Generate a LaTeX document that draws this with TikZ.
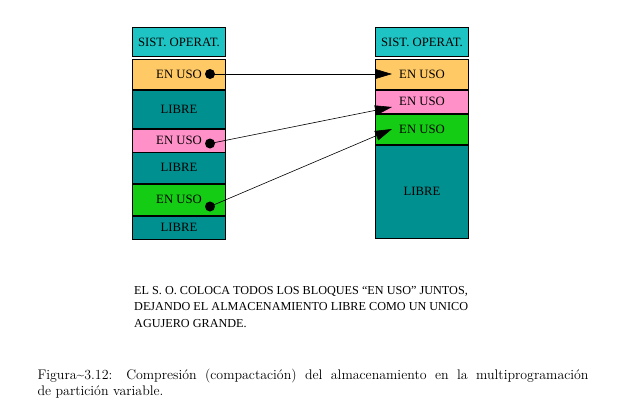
\documentclass[tikz,border=0pt]{standalone}
\usepackage{fontspec}
\newfontfamily\timesfont{Liberation Serif}
\usepackage{xcolor}
\usepackage{tikz}
\usetikzlibrary{arrows.meta}
\definecolor{sistcyan}{HTML}{1EC4C4}
\definecolor{usoorange}{HTML}{FFC966}
\definecolor{libreteal}{HTML}{009090}
\definecolor{usopink}{HTML}{FF90C8}
\definecolor{usogreen}{HTML}{14CC14}

\begin{document}
\begin{tikzpicture}[x=1pt,y=-1pt,
  blk/.style={draw=black,line width=0.8pt,minimum width=93pt,inner sep=0pt,
    font=\timesfont\fontsize{12.7}{14}\selectfont},
  dot/.style={circle,fill=black,inner sep=0pt,minimum size=10pt},
  mv/.style={-{Triangle[length=17pt,width=10pt]},line width=0.6pt}]
  \useasboundingbox (0,0) rectangle (621,413);
  % memoria antes
  \node[blk,fill=sistcyan,minimum height=29.7pt]  (lsist) at (179,41.9)  {SIST. OPERAT.};
  \node[blk,fill=usoorange,minimum height=30pt]   (luso1) at (179,74.3)  {EN USO};
  \node[blk,fill=libreteal,minimum height=37.6pt] (llib1) at (179,109.5) {LIBRE};
  \node[blk,fill=usopink,minimum height=23pt]     (luso2) at (179,140.8) {EN USO};
  \node[blk,fill=libreteal,minimum height=31pt]   (llib2) at (179,167.8) {LIBRE};
  \node[blk,fill=usogreen,minimum height=31pt]    (luso3) at (179,199.5) {EN USO};
  \node[blk,fill=libreteal,minimum height=22.3pt] (llib3) at (179,227.8) {LIBRE};
  % memoria despues
  \node[blk,fill=sistcyan,minimum height=29.4pt]  (rsist) at (422,42)    {SIST. OPERAT.};
  \node[blk,fill=usoorange,minimum height=29.7pt] (ruso1) at (422,74.2)  {EN USO};
  \node[blk,fill=usopink,minimum height=23.3pt]   (ruso2) at (422,101.7) {EN USO};
  \node[blk,fill=usogreen,minimum height=30pt]    (ruso3) at (422,129.3) {EN USO};
  \node[blk,fill=libreteal,minimum height=93pt]   (rlib)  at (422,191.8) {LIBRE};
  % movimientos
  \node[dot] (d1) at (210,74) {};
  \node[dot] (d2) at (210,143.5) {};
  \node[dot] (d3) at (210,206.5) {};
  \coordinate (t1) at (392,74);
  \coordinate (t2) at (392,107);
  \coordinate (t3) at (392,129);
  \draw[mv] (d1.center) -- (t1);
  \draw[mv] (d2.center) -- (t2);
  \draw[mv] (d3.center) -- (t3);
  \node[anchor=base west,align=left,inner sep=0pt,
    font=\timesfont\fontsize{12.2}{16.5}\selectfont] (nota) at (134,327.3)
    {EL S. O. COLOCA TODOS LOS BLOQUES “EN USO” JUNTOS,\\
     DEJANDO EL ALMACENAMIENTO LIBRE COMO UN UNICO\\
     AGUJERO GRANDE.};
  \node[anchor=base west,align=left,inner sep=0pt,
    font=\fontsize{13.9}{15.7}\selectfont] (pie) at (37.3,395)
    {\makebox[551pt][s]{Figura\~{}3.12: Compresión (compactación) del almacenamiento en la multiprogramación}\\
     de partición variable.};
\end{tikzpicture}
\end{document}
